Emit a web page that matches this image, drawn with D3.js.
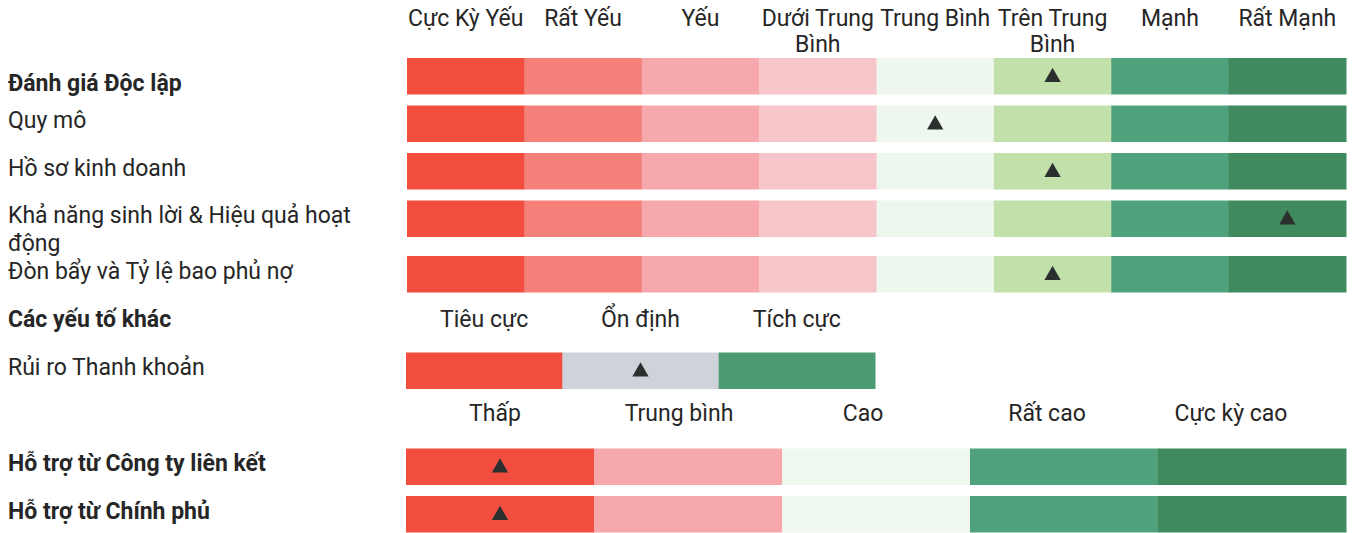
<!DOCTYPE html>
<html><head><meta charset="utf-8">
<script src="https://cdn.jsdelivr.net/npm/d3@7"></script>
<style>
html,body{margin:0;padding:0;background:#fff;}
text{font-family:Roboto,"Noto Sans",sans-serif;fill:#262626;}
</style></head>
<body><svg id="c" width="1352" height="533"></svg>
<script>
// ---------- DATA ----------
const ratingLevels = ["Cực Kỳ Yếu","Rất Yếu","Yếu","Dưới Trung Bình","Trung Bình","Trên Trung Bình","Mạnh","Rất Mạnh"];
const ratingColors = ["#f34d40","#f5807a","#f7a8ac","#f7c6cb","#eef7ee","#c1e0aa","#50a27c","#3f8b5f"];
const standaloneRows = ["Đánh giá Độc lập","Quy mô","Hồ sơ kinh doanh","Khả năng sinh lời & Hiệu quả hoạt động","Đòn bẩy và Tỷ lệ bao phủ nợ"];
const standaloneBold = [true,false,false,false,false];
const standaloneMarks = [5,4,5,7,5];   // index into ratingLevels

const otherHeader = "Các yếu tố khác";
const outlookLevels = ["Tiêu cực","Ổn định","Tích cực"];
const outlookColors = ["#f34d40","#cfd3d9","#4b9b72"];
const outlookRows = ["Rủi ro Thanh khoản"];
const outlookMarks = [1];

const supportLevels = ["Thấp","Trung bình","Cao","Rất cao","Cực kỳ cao"];
const supportColors = ["#f34d40","#f7a8ac","#eef8ef","#50a27c","#3f8b5f"];
const supportRows = ["Hỗ trợ từ Công ty liên kết","Hỗ trợ từ Chính phủ"];
const supportMarks = [0,0];

// ---------- LAYOUT ----------
const svg = d3.select("#c");
const FS = 23, barH = 36.5, rowStep = 47.5, labelX = 8;

function wrap(sel, width, lh){
  sel.each(function(){
    const t = d3.select(this), words = t.text().split(/\s+/), x = t.attr("x"), y = t.attr("y");
    t.text(null);
    let line = [], ts = t.append("tspan").attr("x", x).attr("y", y), n = 0;
    for (const w of words){
      line.push(w); ts.text(line.join(" "));
      if (ts.node().getComputedTextLength() > width && line.length > 1){
        line.pop(); ts.text(line.join(" "));
        line = [w]; n++;
        ts = t.append("tspan").attr("x", x).attr("y", +y + n*lh).text(w);
      }
    }
  });
}
function triangle(g, cx, cy){
  g.append("path")
   .attr("d", d3.symbol().type(d3.symbolTriangle).size(115)())
   .attr("transform", `translate(${cx},${cy+1})`)
   .attr("fill","#2b302f");
}

// ---- Standalone section ----
const xTop = d3.scaleBand().domain(ratingLevels).range([407,1346]);
const gHead = svg.append("g");
gHead.selectAll("text").data(ratingLevels).join("text")
  .attr("x", d => xTop(d) + xTop.bandwidth()/2).attr("y", 26)
  .attr("text-anchor","middle").style("font-size", FS+"px").text(d => d)
  .call(wrap, xTop.bandwidth(), 26);

// compute row tops, extra space for wrapped labels
const tops = [];
let yCur = 58;
standaloneRows.forEach((r,i) => { tops.push(yCur); yCur += rowStep + (r.length > 34 ? 8 : 0); });

standaloneRows.forEach((r,i) => {
  const g = svg.append("g");
  g.selectAll("rect").data(ratingLevels).join("rect")
    .attr("x", d => xTop(d)).attr("y", tops[i])
    .attr("width", xTop.bandwidth()+0.5).attr("height", barH)
    .attr("fill", (d,j) => ratingColors[j]);
  const cy = tops[i] + barH/2;
  triangle(g, xTop(ratingLevels[standaloneMarks[i]]) + xTop.bandwidth()/2, cy);
  g.append("text").attr("x", labelX).attr("y", standaloneBold[i] ? cy + 15 : cy + 4.5)
    .style("font-size", FS+"px").style("font-weight", standaloneBold[i] ? 700 : 400)
    .text(r).call(wrap, 362, 28);
});

// ---- Other factors ----
const xOut = d3.scaleBand().domain(outlookLevels).range([406,875]);
svg.append("text").attr("x", labelX).attr("y", 327).style("font-size", FS+"px")
  .style("font-weight",700).text(otherHeader);
svg.append("g").selectAll("text").data(outlookLevels).join("text")
  .attr("x", d => xOut(d) + xOut.bandwidth()/2).attr("y", 327)
  .attr("text-anchor","middle").style("font-size", FS+"px").text(d => d);
outlookRows.forEach((r,i) => {
  const top = 352.5 + i*rowStep, g = svg.append("g");
  g.selectAll("rect").data(outlookLevels).join("rect")
    .attr("x", d => xOut(d)).attr("y", top)
    .attr("width", xOut.bandwidth()+0.5).attr("height", barH)
    .attr("fill", (d,j) => outlookColors[j]);
  triangle(g, xOut(outlookLevels[outlookMarks[i]]) + xOut.bandwidth()/2, top + barH/2);
  g.append("text").attr("x", labelX).attr("y", top + barH/2 + 4.5)
    .style("font-size", FS+"px").text(r);
});

// ---- Support ----
const xSup = d3.scaleBand().domain(supportLevels).range([406,1346]);
const xSupLab = d3.scaleBand().domain(supportLevels).range([403,1323]);
svg.append("g").selectAll("text").data(supportLevels).join("text")
  .attr("x", d => xSupLab(d) + xSupLab.bandwidth()/2).attr("y", 421)
  .attr("text-anchor","middle").style("font-size", FS+"px").text(d => d);
supportRows.forEach((r,i) => {
  const top = 448.5 + i*rowStep, g = svg.append("g");
  g.selectAll("rect").data(supportLevels).join("rect")
    .attr("x", d => xSup(d)).attr("y", top)
    .attr("width", xSup.bandwidth()+0.5).attr("height", barH)
    .attr("fill", (d,j) => supportColors[j]);
  triangle(g, xSup(supportLevels[supportMarks[i]]) + xSup.bandwidth()/2, top + barH/2);
  g.append("text").attr("x", labelX).attr("y", top + barH/2 + 4.5)
    .style("font-size", FS+"px").style("font-weight",700).text(r);
});
</script></body></html>
